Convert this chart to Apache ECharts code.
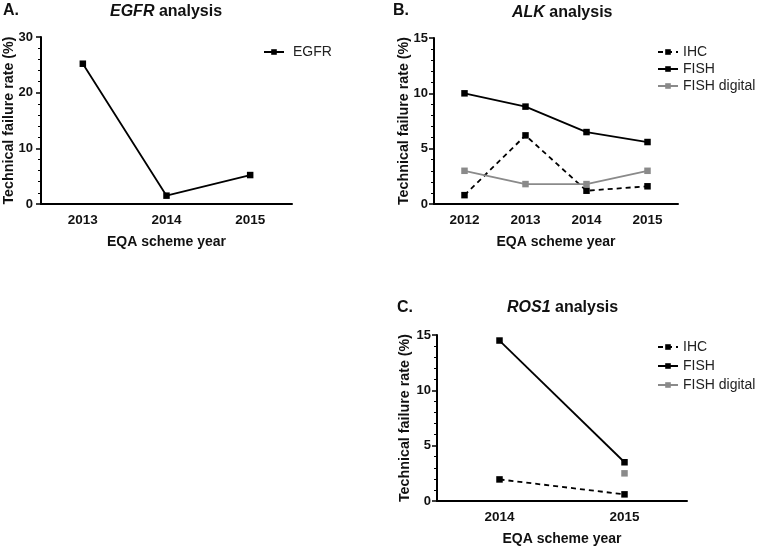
<!DOCTYPE html>
<html>
<head>
<meta charset="utf-8">
<script src="https://cdn.jsdelivr.net/npm/echarts@6/dist/echarts.min.js"></script>
<style>
html,body{margin:0;padding:0;background:#fff;}
#c{width:759px;height:548px;}
</style>
</head>
<body>
<div id="c"></div>
<script>
// ---- data ----
const yearsA = ['2013', '2014', '2015'];
const egfr = [25.2, 1.5, 5.2];

const yearsB = ['2012', '2013', '2014', '2015'];
const alkIHC = [0.8, 6.2, 1.2, 1.6];
const alkFISH = [10.0, 8.8, 6.5, 5.6];
const alkFISHdigital = [3.0, 1.8, 1.8, 3.0];

const yearsC = ['2014', '2015'];
const rosIHC = [1.95, 0.6];
const rosFISH = [14.5, 3.5];
const rosFISHdigital = [null, 2.5];

const yMaxA = 30, yIntA = 10;
const yMaxB = 15, yIntB = 5;
const yMaxC = 15, yIntC = 5;

// ---- styles ----
const FONT = '"Liberation Sans", Arial, sans-serif';
const BLACK = '#000';
const GREY = '#8a8a8a';

function xAxis(gi, cats) {
  return {
    type: 'category', gridIndex: gi, data: cats, boundaryGap: true,
    axisLine: {lineStyle: {color: BLACK, width: 2}},
    axisTick: {alignWithLabel: true, length: 5, lineStyle: {color: BLACK, width: 1.5}},
    axisLabel: {color: '#111', fontFamily: FONT, fontWeight: 'bold', fontSize: 13.5, margin: 9},
    name: 'EQA scheme year', nameLocation: 'middle', nameGap: 31, nameMoveOverlap: false,
    nameTextStyle: {color: '#111', fontFamily: FONT, fontWeight: 'bold', fontSize: 14}
  };
}
function yAxis(gi, max, interval, gap, margin) {
  return {
    type: 'value', gridIndex: gi, min: 0, max: max, interval: interval,
    axisLine: {show: true, lineStyle: {color: BLACK, width: 2}},
    axisTick: {show: true, length: 5, lineStyle: {color: BLACK, width: 1.5}},
    minorTick: {show: true, splitNumber: 5, length: 3, lineStyle: {color: BLACK, width: 1}},
    splitLine: {show: false},
    axisLabel: {color: '#111', fontFamily: FONT, fontWeight: 'bold', fontSize: 13, margin: margin},
    name: 'Technical failure rate (%)', nameLocation: 'middle', nameGap: gap, nameMoveOverlap: false,
    nameTextStyle: {color: '#111', fontFamily: FONT, fontWeight: 'bold', fontSize: 14.3}
  };
}
function line(name, xi, data, color, dashed) {
  return {
    name: name, type: 'line', xAxisIndex: xi, yAxisIndex: xi, data: data,
    symbol: 'rect', symbolSize: 6.5, connectNulls: false,
    itemStyle: {color: color},
    lineStyle: {color: color, width: 1.8, type: dashed ? [5, 4] : 'solid'},
    animation: false
  };
}
function legend(left, top, names, textPad, gap) {
  return {
    left: left, top: top, orient: 'vertical', padding: 0,
    itemWidth: 20, itemHeight: 7, itemGap: gap,
    data: names,
    textStyle: {color: '#222', fontFamily: FONT, fontSize: 14, padding: [0, 0, 0, textPad]}
  };
}
function title(text, left, top) {
  return {
    text: text, left: left, top: top, padding: 0,
    textStyle: {
      color: '#111', fontFamily: FONT, fontWeight: 'bold', fontSize: 16,
      rich: {i: {fontStyle: 'italic', fontWeight: 'bold', fontFamily: FONT, fontSize: 16, color: '#111'}}
    }
  };
}

const chart = echarts.init(document.getElementById('c'), null, {renderer: 'canvas'});
chart.setOption({
  backgroundColor: '#fff',
  animation: false,
  title: [
    title('A.', 3, 3),
    title('{i|EGFR} analysis', 110, 4),
    title('B.', 393, 3),
    title('{i|ALK} analysis', 512, 5),
    title('C.', 397, 300),
    title('{i|ROS1} analysis', 507, 300)
  ],
  grid: [
    {left: 41, top: 37, width: 251, height: 167},
    {left: 434, top: 38, width: 244, height: 166},
    {left: 437, top: 335, width: 250, height: 166}
  ],
  xAxis: [xAxis(0, yearsA), xAxis(1, yearsB), xAxis(2, yearsC)],
  yAxis: [yAxis(0, yMaxA, yIntA, 25, 8), yAxis(1, yMaxB, yIntB, 23, 6), yAxis(2, yMaxC, yIntC, 25, 6)],
  legend: [
    legend(263, 45, ['EGFR'], 4, 3),
    legend(657, 45, ['IHC', 'FISH', 'FISH digital'], 0, 3),
    legend(657, 340, ['IHC', 'FISH', 'FISH digital'], 0, 5)
  ],
  series: [
    line('EGFR', 0, egfr, BLACK, false),
    line('IHC', 1, alkIHC, BLACK, true),
    line('FISH', 1, alkFISH, BLACK, false),
    line('FISH digital', 1, alkFISHdigital, GREY, false),
    line('IHC', 2, rosIHC, BLACK, true),
    line('FISH', 2, rosFISH, BLACK, false),
    line('FISH digital', 2, rosFISHdigital, GREY, false)
  ]
});
</script>
</body>
</html>
